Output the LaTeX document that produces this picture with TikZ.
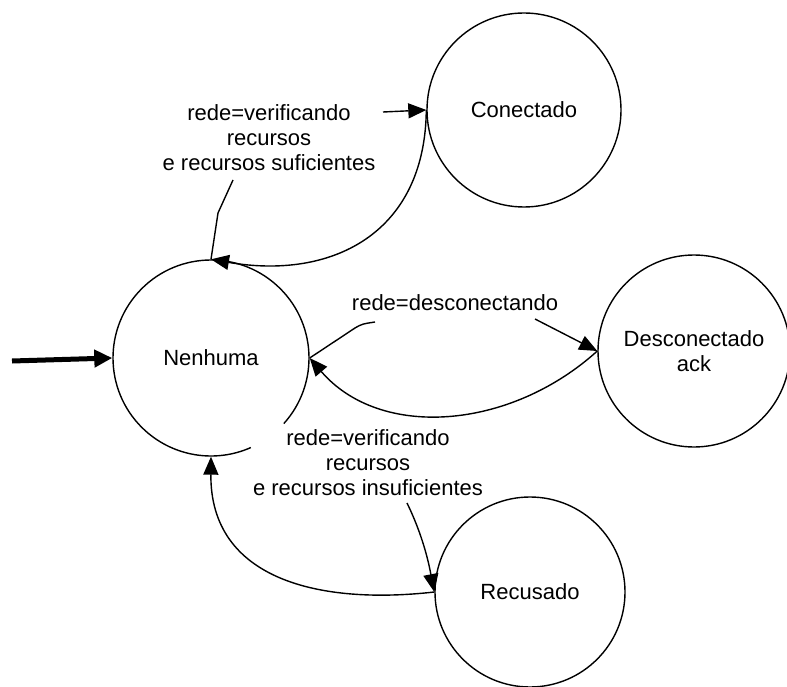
\documentclass[tikz,border=0pt]{standalone}
\usepackage{fontspec}
\setmainfont{Liberation Sans}
\usetikzlibrary{arrows.meta}
\begin{document}
\begin{tikzpicture}[x=1pt,y=-1pt,
  state/.style={circle,draw,line width=1.4pt,inner sep=0pt,font=\fontsize{22}{25}\selectfont,align=center},
  lbl/.style={font=\fontsize{22}{25}\selectfont,align=center,inner sep=1pt},
  plain/.style={line width=1.4pt},
  edge/.style={line width=1.4pt,-{Triangle[length=18pt,width=15pt]}},
  initedge/.style={line width=5pt,-{Triangle[length=18pt,width=17pt]}}]
\useasboundingbox (0,0) rectangle (787,687);
% states
\node[state,minimum size=194pt] (c) at (524,110) {Conectado};
\node[state,draw=none,minimum size=196pt] (n) at (211,358) {Nenhuma};
\draw[plain] ([shift={(-42:98pt)}]n.center) arc[start angle=-42,end angle=294,radius=98pt];
\node[state,minimum size=192pt] (d) at (694,351) {Desconectado\\ack};
\node[state,minimum size=190pt] (r) at (530,592) {Recusado};
% labels
\node[lbl] (l1) at (269,138) {rede=verificando\\recursos\\e recursos suficientes};
\node[lbl] (l2) at (455,303) {rede=desconectando};
\node[lbl] (l3) at (368,463) {rede=verificando\\recursos\\e recursos insuficientes};
% free ends
\coordinate (s0) at (12,361);
\coordinate (a1) at (233,180);
\coordinate (b1) at (383,112);
\coordinate (a2) at (375,322);
\coordinate (b2) at (535,319);
\coordinate (b3) at (407,503);
% initial arrow
\draw[initedge] (s0) -- (n.west);
% Nenhuma -> Conectado
\draw[plain] (n.north) -- (218,213) -- (a1);
\draw[edge] (b1) -- (c.west);
% Conectado -> Nenhuma
\draw[edge] (c.west) .. controls (425,235) and (330,280) .. (n.north);
% Nenhuma -> Desconectado
\draw[plain] (n.east) -- (355,328) .. controls (362,324) .. (a2);
\draw[edge] (b2) -- (d.west);
% Desconectado -> Nenhuma
\draw[edge] (d.west) .. controls (510,430) and (380,440) .. (n.east);
% Nenhuma -> Recusado
\draw[edge] (b3) .. controls (425,540) and (430,570) .. (r.west);
% Recusado -> Nenhuma
\draw[edge] (r.west) .. controls (320,605) and (210,580) .. (n.south);
\end{tikzpicture}
\end{document}
